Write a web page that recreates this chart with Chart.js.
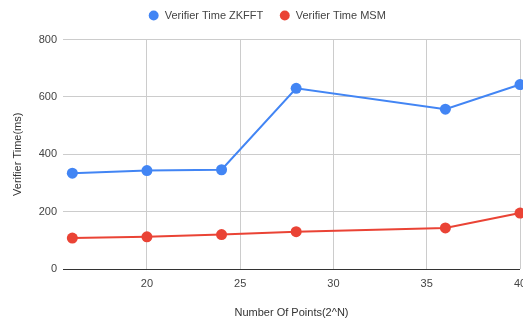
<!DOCTYPE html>
<html>
<head>
<meta charset="utf-8">
<script src="https://cdn.jsdelivr.net/npm/chart.js@4/dist/chart.umd.min.js"></script>
<style>
  html, body { margin: 0; padding: 0; background: #fff; overflow: hidden; }
  canvas { display: block; }
</style>
</head>
<body>
<canvas id="c" width="523" height="324"></canvas>
<script>
// Number of points as powers of two (N)
const pointsN = [16, 20, 24, 28, 36, 40];
// Verifier time in milliseconds
const zkfftTime = [334, 343, 346, 630, 557, 643];
const msmTime = [108, 112, 120, 130, 143, 195];
const xTicks = [20, 25, 30, 35, 40];
const yTicks = [0, 200, 400, 600, 800];

const FONT = "'Liberation Sans', Arial, sans-serif";

// Legend row: a little extra space below it and a slight shift to the right
const legendTweak = {
  id: 'legendTweak',
  beforeLayout(chart) {
    const lg = chart.legend;
    if (lg && !lg._tweaked) {
      const fit = lg.fit;
      lg.fit = function () { fit.call(this); this.height += 8.5; };
      const draw = lg.draw;
      lg.draw = function () {
        const ctx = this.ctx;
        ctx.save();
        ctx.translate(7, 0);
        draw.call(this);
        ctx.restore();
      };
      lg._tweaked = true;
    }
  }
};

const chart = new Chart(document.getElementById('c'), {
  type: 'line',
  data: {
    datasets: [
      {
        label: 'Verifier Time ZKFFT',
        data: pointsN.map((x, i) => ({ x, y: zkfftTime[i] })),
        borderColor: '#4285F4',
        backgroundColor: '#4285F4',
        borderWidth: 2,
        pointRadius: 5.5,
        pointHoverRadius: 5.5,
        pointBorderWidth: 0,
        clip: false
      },
      {
        label: 'Verifier Time MSM',
        data: pointsN.map((x, i) => ({ x, y: msmTime[i] })),
        borderColor: '#EA4335',
        backgroundColor: '#EA4335',
        borderWidth: 2,
        pointRadius: 5.5,
        pointHoverRadius: 5.5,
        pointBorderWidth: 0,
        clip: false
      }
    ]
  },
  plugins: [legendTweak],
  options: {
    responsive: false,
    animation: false,
    layout: { autoPadding: false, padding: { top: -6, right: 3, left: 0, bottom: 0 } },
    plugins: {
      legend: {
        position: 'top',
        labels: {
          usePointStyle: true,
          pointStyle: 'circle',
          boxWidth: 15,
          boxHeight: 7,
          padding: 16,
          color: '#444',
          font: { family: FONT, size: 11 }
        }
      },
      tooltip: { enabled: false }
    },
    scales: {
      x: {
        type: 'linear',
        min: 15.5,
        max: 40,
        afterBuildTicks: (axis) => { axis.ticks = xTicks.map(v => ({ value: v })); },
        afterFit: (axis) => { axis.height = 55; axis.paddingRight = 0; axis.paddingLeft = 0; },
        grid: { color: '#cccccc', drawTicks: false },
        border: { display: false },
        ticks: { color: '#444', padding: 8, font: { family: FONT, size: 11 } },
        title: {
          display: true,
          text: 'Number Of Points(2^N)',
          color: '#333',
          padding: { top: 14 },
          font: { family: FONT, size: 11 }
        }
      },
      y: {
        min: 0,
        max: 800,
        afterBuildTicks: (axis) => { axis.ticks = yTicks.map(v => ({ value: v })); },
        afterFit: (axis) => { axis.width = 63; },
        grid: {
          color: (ctx) => ctx.tick && ctx.tick.value === 0 ? '#333333' : '#cccccc',
          drawTicks: false
        },
        border: { display: false },
        ticks: { color: '#444', padding: 6, font: { family: FONT, size: 11 } },
        title: {
          display: true,
          text: 'Verifier Time(ms)',
          color: '#333',
          padding: { top: 11, bottom: 4 },
          font: { family: FONT, size: 11 }
        }
      }
    }
  }
});
</script>
</body>
</html>
